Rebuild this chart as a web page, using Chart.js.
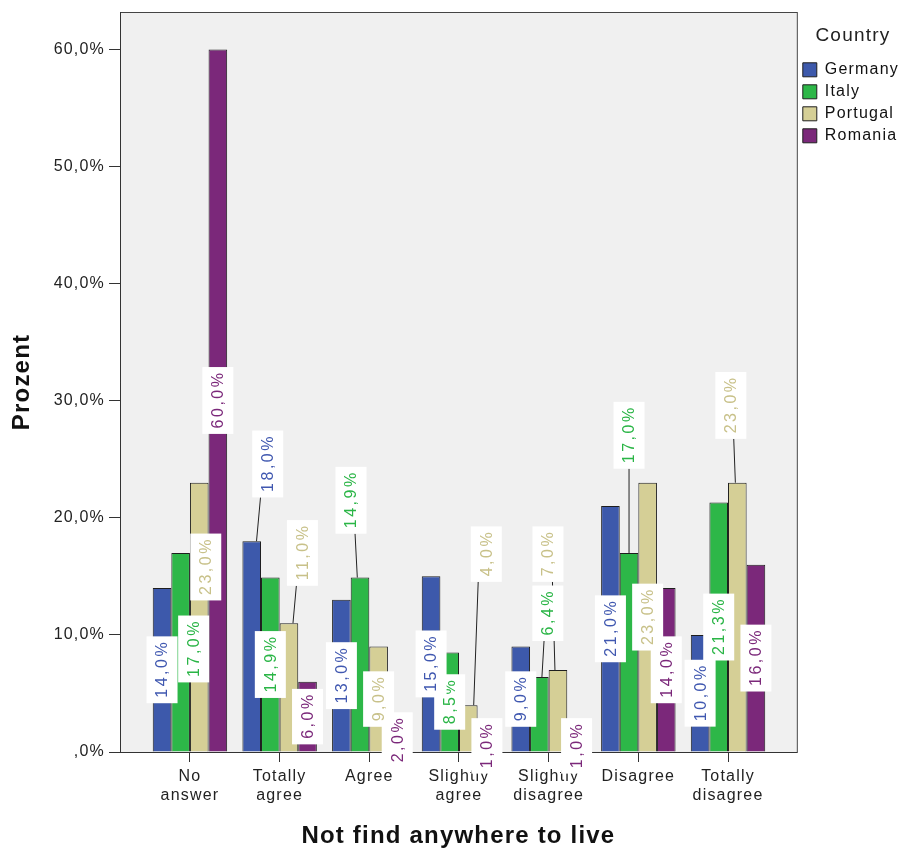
<!DOCTYPE html>
<html>
<head>
<meta charset="utf-8">
<script src="https://cdn.jsdelivr.net/npm/chart.js@4"></script>
<style>
  body { margin: 0; background: #fff; }
  canvas { display: block; }
</style>
</head>
<body>
<canvas id="myChart" width="904" height="851"></canvas>
<script>
// values (percent)
const categories = ['No answer', 'Totally agree', 'Agree', 'Slightly agree', 'Slightly disagree', 'Disagree', 'Totally disagree'];
const tickLines = [['No', 'answer'], ['Totally', 'agree'], ['Agree'], ['Slightly', 'agree'], ['Slightly', 'disagree'], ['Disagree'], ['Totally', 'disagree']];
const countries = ['Germany', 'Italy', 'Portugal', 'Romania'];
const germany = [14.0, 18.0, 13.0, 15.0, 9.0, 21.0, 10.0];
const italy = [17.0, 14.9, 14.9, 8.5, 6.4, 17.0, 21.3];
const portugal = [23.0, 11.0, 9.0, 4.0, 7.0, 23.0, 23.0];
const romania = [60.0, 6.0, 2.0, 1.0, 1.0, 14.0, 16.0];
const yTicks = [0, 10, 20, 30, 40, 50, 60];

const fills = ['#3d59ab', '#2db748', '#d5cf96', '#7b287a'];
const textColors = ['#4058b0', '#2ab546', '#c8c189', '#7b287a'];

// where SPSS moved a label away from the middle of its bar (null = middle)
const moved = [
  [null, {dx: 16, at: 24.6, line: true}, null, null, null, null, null],
  [{dx: 13, at: 8.8}, null, {dx: -9, at: 21.5, line: true}, null, {dx: 8.5, at: 11.85, line: true}, {dx: 0, at: 27.05, line: true}, null],
  [{dx: 6.5, at: 15.8}, {dx: 13.5, at: 17.0, line: true}, null, {dx: 18, at: 16.9, line: true}, {dx: -10, at: 16.9, line: true}, null, {dx: -6.5, at: 29.6, line: true}],
  [null, null, null, null, null, null, null]
];

const fmt = v => (v >= 1 ? Math.floor(v) : '') + ',' + (v.toFixed(1).split('.')[1]) + '%';

const spacing = {
  id: 'spacing',
  beforeUpdate(chart) { chart.ctx.letterSpacing = '1.2px'; },
  beforeDraw(chart) {
    const {ctx, chartArea: a} = chart;
    ctx.letterSpacing = '1.2px';
    ctx.save();
    ctx.fillStyle = '#f0f0f0';
    ctx.fillRect(a.left, a.top, a.right - a.left, a.bottom - a.top);
    ctx.strokeStyle = '#444';
    ctx.lineWidth = 1;
    ctx.strokeRect(a.left + 0.5, a.top + 0.5, a.right - a.left, a.bottom - a.top);
    ctx.restore();
  }
};

const barLabels = {
  id: 'barLabels',
  afterDatasetsDraw(chart) {
    const ctx = chart.ctx;
    const y = chart.scales.y;
    ctx.save();
    ctx.font = '16px "Liberation Sans", Arial, sans-serif';
    ctx.letterSpacing = '2.5px';
    ctx.textAlign = 'center';
    ctx.textBaseline = 'middle';
    for (let d = chart.data.datasets.length - 1; d >= 0; d--) {
      const meta = chart.getDatasetMeta(d);
      meta.data.forEach((bar, i) => {
        const v = chart.data.datasets[d].data[i].y;
        const m = moved[d][i];
        const txt = fmt(v);
        const len = ctx.measureText(txt).width + 9;
        const cx = bar.x + (m ? m.dx : 0);
        const cy = m ? y.getPixelForValue(m.at) : (bar.y + bar.base) / 2;
        if (m && m.line) {
          ctx.strokeStyle = '#222';
          ctx.lineWidth = 1;
          ctx.beginPath();
          ctx.moveTo(bar.x + m.dx * 0.3, bar.y);
          ctx.lineTo(bar.x + m.dx * 0.55, cy + len / 2);
          ctx.stroke();
        }
        ctx.fillStyle = '#fff';
        ctx.fillRect(cx - 15.5, cy - len / 2, 31, len);
        ctx.save();
        ctx.translate(cx, cy);
        ctx.rotate(-Math.PI / 2);
        ctx.fillStyle = textColors[d];
        ctx.fillText(txt, 1, 1);
        ctx.restore();
      });
    }
    ctx.restore();
  }
};

const series = [germany, italy, portugal, romania];
const ctx = document.getElementById('myChart').getContext('2d');
const tickFont = {family: '"Liberation Sans", Arial, sans-serif', size: 16};
const titleFont = {family: '"Liberation Sans", Arial, sans-serif', size: 24, weight: 'bold'};

new Chart(ctx, {
  type: 'bar',
  data: {
    datasets: series.map((s, d) => ({
      label: countries[d],
      data: s.map((v, i) => ({x: i, y: v})),
      backgroundColor: fills[d],
      borderColor: '#1e1e1e',
      borderWidth: 1,
      categoryPercentage: 0.83,
      barPercentage: 1.0
    }))
  },
  options: {
    responsive: false,
    animation: false,
    layout: {padding: {top: 12, right: -5, bottom: 0, left: 0}},
    plugins: {
      tooltip: {enabled: false},
      legend: {
        position: 'right',
        align: 'start',
        title: {display: true, text: 'Country', color: '#222', font: {family: tickFont.family, size: 19}, padding: {top: 14, bottom: 7}},
        labels: {boxWidth: 14, boxHeight: 14, padding: 6, color: '#111', font: tickFont}
      }
    },
    scales: {
      x: {
        type: 'linear',
        min: -0.78,
        max: 6.767,
        offset: false,
        grid: {drawOnChartArea: false, tickLength: 10, color: '#333', offset: false},
        border: {color: '#333', width: 1},
        afterBuildTicks: s => { s.ticks = categories.map((c, i) => ({value: i})); },
        afterFit: s => { s.height = 99; },
        ticks: {autoSkip: false, maxRotation: 0, padding: 5, color: '#222', font: tickFont, callback: v => tickLines[v]},
        title: {display: true, text: 'Not find anywhere to live', color: '#111', font: titleFont, padding: {top: 0, bottom: 0}}
      },
      y: {
        min: 0,
        max: 63.2,
        grid: {drawOnChartArea: false, tickLength: 11, color: '#333'},
        border: {color: '#333', width: 1},
        afterBuildTicks: s => { s.ticks = yTicks.map(v => ({value: v})); },
        afterFit: s => { s.width = 120; s.paddingTop = 0; s.paddingBottom = 0; },
        ticks: {padding: 4, color: '#222', font: tickFont, callback: v => (v ? v : '') + ',0%'},
        title: {display: true, text: 'Prozent', color: '#111', font: titleFont, padding: {top: 8, bottom: 0}}
      }
    }
  },
  plugins: [spacing, barLabels]
});
</script>
</body>
</html>
